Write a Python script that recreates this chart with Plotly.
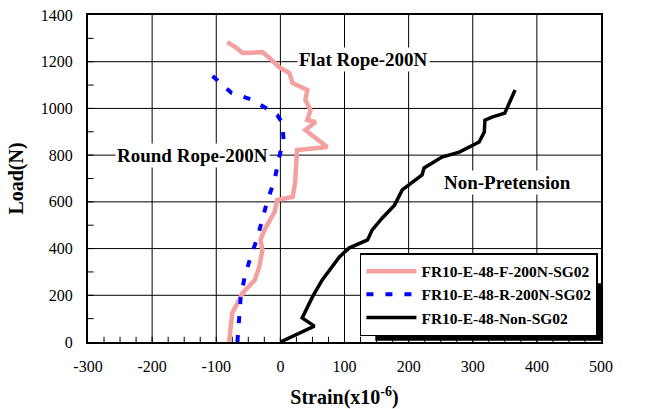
import plotly.graph_objects as go

# Flat rope (pink)
flat_strain = [-80, -75, -70, -59, -40, -33, -28, -31, -25, -9, -5, 19, 23, 26, 73, 39, 55, 42, 47, 39, 42, 19, 14, -2, -17, -28, -59, -70, -83]
flat_load = [0, 124, 150, 210, 265, 321, 394, 437, 479, 557, 608, 621, 681, 822, 835, 908, 942, 950, 993, 1036, 1079, 1109, 1152, 1177, 1216, 1241, 1237, 1263, 1284]

# Round rope (blue dashed)
round_strain = [-67, -64, -62, -56, -47, -36, -28, -20, -9, -3, 5, 3, -5, -17, -47, -76, -106]
round_load = [0, 94, 188, 274, 360, 445, 531, 608, 693, 779, 865, 938, 972, 993, 1040, 1066, 1139]

# Non-pretension (black)
non_strain = [0, 53, 34, 42, 50, 65, 92, 107, 136, 143, 159, 178, 190, 221, 224, 252, 279, 310, 318, 319, 330, 350, 366]
non_load = [0, 68, 103, 150, 193, 265, 364, 402, 437, 479, 531, 586, 651, 715, 745, 792, 813, 856, 899, 950, 963, 980, 1079]

names = ["FR10-E-48-F-200N-SG02", "FR10-E-48-R-200N-SG02", "FR10-E-48-Non-SG02"]

x_ticks = [-300, -200, -100, 0, 100, 200, 300, 400, 500]
x_ticklabels = ["-300", "-200", "-100", "0", "100", "200", "300", "400", "500"]
y_ticks = [0, 200, 400, 600, 800, 1000, 1200, 1400]
y_ticklabels = ["0", "200", "400", "600", "800", "1000", "1200", "1400"]
x_minor_step = 25
y_minor_step = 100

FONT = "Liberation Serif"

fig = go.Figure()
fig.add_trace(go.Scatter(x=flat_strain, y=flat_load, mode="lines", name=names[0],
                         line=dict(color="#F5A0A0", width=4.5)))
fig.add_trace(go.Scatter(x=round_strain, y=round_load, mode="lines", name=names[1],
                         line=dict(color="#0000FF", width=4, dash="7px,12px")))
fig.add_trace(go.Scatter(x=non_strain, y=non_load, mode="lines", name=names[2],
                         line=dict(color="black", width=3.5)))

ann_style = dict(showarrow=False, bgcolor="white",
                 font=dict(family=FONT, size=19, color="black"))
fig.add_annotation(x=130, y=1211, text="<b>Flat Rope-200N</b>", **ann_style)
fig.add_annotation(x=-137, y=800, text="<b>Round Rope-200N</b>", **ann_style)
fig.add_annotation(x=354, y=685, text="<b>Non-Pretension</b>", **ann_style)

# grid lines (from tick arrays), drawn below traces
for xv in x_ticks[1:-1]:
    fig.add_shape(type="line", xref="x", yref="paper", x0=xv, x1=xv, y0=0, y1=1,
                  line=dict(color="black", width=1), layer="below")
for yv in y_ticks[1:-1]:
    fig.add_shape(type="line", xref="paper", yref="y", x0=0, x1=1, y0=yv, y1=yv,
                  line=dict(color="black", width=1), layer="below")

# minor inside ticks
x_min, x_max = x_ticks[0], x_ticks[-1]
y_min, y_max = y_ticks[0], y_ticks[-1]
xv = x_min + x_minor_step
while xv < x_max:
    fig.add_shape(type="line", xref="x", yref="paper", x0=xv, x1=xv, y0=0, y1=0.016,
                  line=dict(color="black", width=1), layer="below")
    xv += x_minor_step
yv = y_min + y_minor_step
while yv < y_max:
    fig.add_shape(type="line", xref="paper", yref="y", x0=0, x1=0.011, y0=yv, y1=yv,
                  line=dict(color="black", width=1), layer="below")
    yv += y_minor_step

# legend shadow
fig.add_shape(type="rect", xref="paper", yref="paper", x0=0.56, x1=1.004, y0=0.004, y1=0.18,
              fillcolor="black", line=dict(width=0), layer="above")

fig.update_layout(
    width=646, height=409,
    margin=dict(l=88, r=45, t=15, b=67, autoexpand=False),
    paper_bgcolor="white", plot_bgcolor="white",
    font=dict(family=FONT, size=16, color="black"),
    showlegend=True,
    legend=dict(x=0.994, y=0.018, xanchor="right", yanchor="bottom",
                bgcolor="white", bordercolor="black", borderwidth=1.5,
                font=dict(family=FONT, size=15.5, color="black", weight="bold"),
                tracegroupgap=0, itemwidth=50),
)
fig.update_xaxes(range=[x_min, x_max], tickvals=x_ticks, ticktext=x_ticklabels, automargin=False,
                 showgrid=False, showline=True, linecolor="black", linewidth=2, mirror=True,
                 ticks="", ticklabelstandoff=9,
                 zeroline=False, tickfont=dict(family=FONT, size=16, color="black"),
                 title=dict(text="<b>Strain(x10<sup>-6</sup>)</b>", font=dict(family=FONT, size=20), standoff=22))
fig.update_yaxes(range=[y_min, y_max], tickvals=y_ticks, ticktext=y_ticklabels, automargin=False,
                 showgrid=False, showline=True, linecolor="black", linewidth=2, mirror=True,
                 ticks="", ticklabelstandoff=10,
                 zeroline=False, tickfont=dict(family=FONT, size=16, color="black"),
                 title=dict(text="<b>Load(N)</b>", font=dict(family=FONT, size=20), standoff=12))

fig.write_html("out.html")
